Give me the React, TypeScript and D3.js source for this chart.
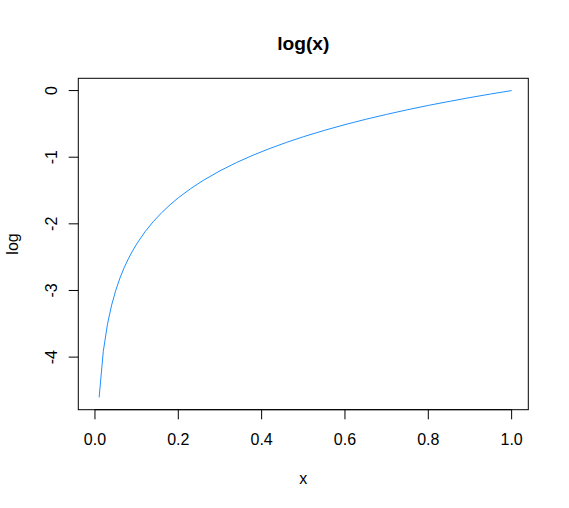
import React from "react";
import * as d3 from "d3";

// points
const xValues = [
    0.01, 0.02, 0.03, 0.04, 0.05, 0.06, 0.07, 0.08, 0.09, 0.1, 0.12, 0.14, 0.16, 0.18, 0.2, 0.23, 0.26,
    0.3, 0.34, 0.38, 0.42, 0.46, 0.5, 0.55, 0.6, 0.65, 0.7, 0.75, 0.8, 0.85, 0.9, 0.95, 1.0,
];
const yValues = [
    -4.605, -3.912, -3.507, -3.219, -2.996, -2.813, -2.659, -2.526, -2.408, -2.303, -2.12, -1.966,
    -1.833, -1.715, -1.609, -1.47, -1.347, -1.204, -1.079, -0.968, -0.868, -0.777, -0.693, -0.598,
    -0.511, -0.431, -0.357, -0.288, -0.223, -0.163, -0.105, -0.051, 0,
];
const xTicks = [0, 0.2, 0.4, 0.6, 0.8, 1.0];
const yTicks = [0, -1, -2, -3, -4];
const xLimits = [0, 1]; // R's x vector started at 0

const width = 569;
const height = 508;
const margin = { left: 78.3, right: 40.7, top: 78.3, bottom: 98.3 };
const font = "'Liberation Sans', Arial, sans-serif";

const pad = (lo: number, hi: number) => {
    const d = (hi - lo) * 0.04;
    return [lo - d, hi + d];
};

export default function App() {
    const yExt = d3.extent(yValues) as [number, number];

    const x = d3
        .scaleLinear()
        .domain(pad(xLimits[0], xLimits[1]))
        .range([margin.left, width - margin.right]);
    const y = d3
        .scaleLinear()
        .domain(pad(yExt[0], yExt[1]))
        .range([height - margin.bottom, margin.top]);

    const line = d3
        .line<number>()
        .x((_, i) => x(xValues[i]))
        .y((d) => y(d));

    const plotBottom = height - margin.bottom;
    const cx = (margin.left + width - margin.right) / 2;
    const cy = (margin.top + plotBottom) / 2;

    return (
        <svg
            width={width}
            height={height}
            style={{ position: "absolute", left: 0, top: 0, background: "#fff" }}
            fontFamily={font}
        >
            <rect
                x={margin.left}
                y={margin.top}
                width={width - margin.left - margin.right}
                height={plotBottom - margin.top}
                fill="none"
                stroke="#000"
                strokeWidth={1}
            />
            <path d={line(yValues) || ""} fill="none" stroke="#1E90FF" strokeWidth={1} />

            {/* x axis */}
            <line x1={x(xTicks[0])} x2={x(xTicks[xTicks.length - 1])} y1={plotBottom} y2={plotBottom} stroke="#000" />
            {xTicks.map((t) => (
                <g key={`xt${t}`}>
                    <line x1={x(t)} x2={x(t)} y1={plotBottom} y2={plotBottom + 9.6} stroke="#000" />
                    <text x={x(t)} y={444.5} fontSize={16} textAnchor="middle" fill="#000">
                        {t.toFixed(1)}
                    </text>
                </g>
            ))}

            {/* y axis */}
            {yTicks.map((t) => (
                <g key={`yt${t}`}>
                    <line x1={margin.left - 9.6} x2={margin.left} y1={y(t)} y2={y(t)} stroke="#000" />
                    <text
                        transform={`translate(57,${y(t)}) rotate(-90)`}
                        fontSize={16}
                        textAnchor="middle"
                        fill="#000"
                    >
                        {t}
                    </text>
                </g>
            ))}

            <text x={cx} y={49.5} fontSize={19.2} fontWeight="bold" textAnchor="middle" fill="#000">
                log(x)
            </text>
            <text x={cx} y={484} fontSize={16} textAnchor="middle" fill="#000">
                x
            </text>
            <text transform={`translate(17.5,${cy}) rotate(-90)`} fontSize={16} textAnchor="middle" fill="#000">
                log
            </text>
        </svg>
    );
}
